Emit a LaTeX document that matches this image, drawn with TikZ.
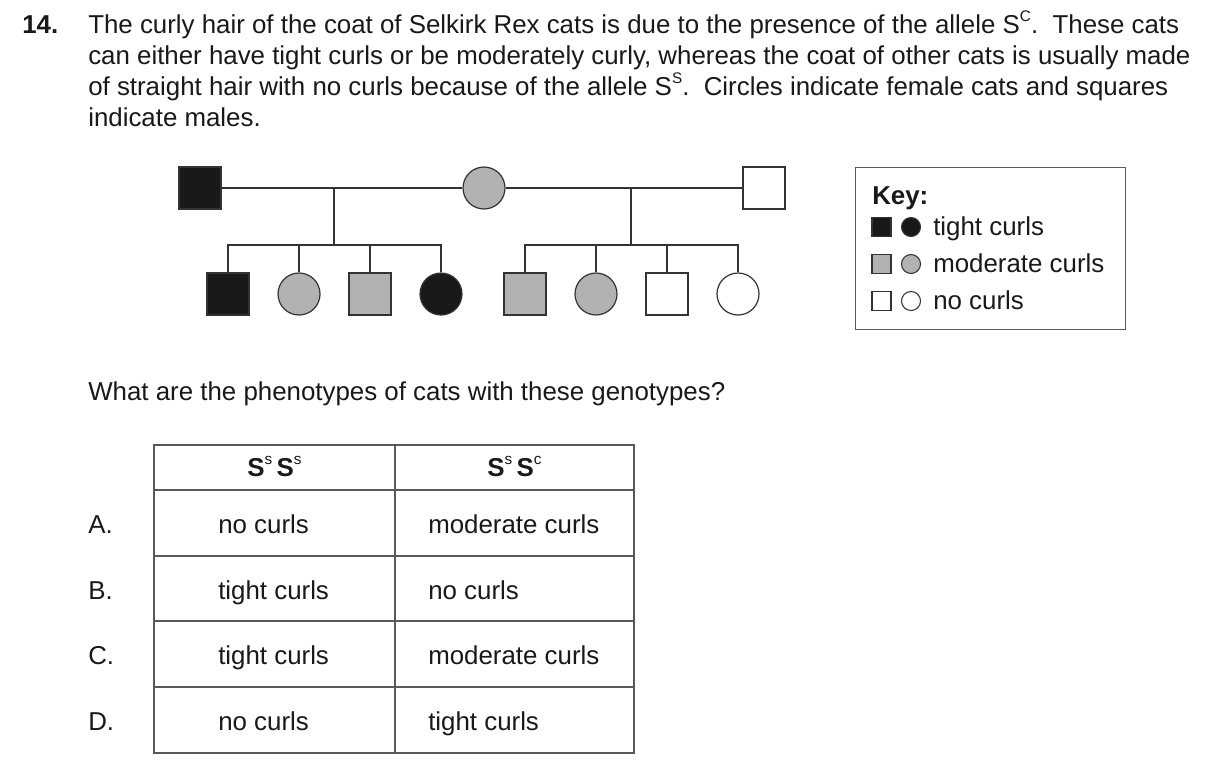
\documentclass[tikz,border=0pt]{standalone}
\usepackage{fontspec}
\setmainfont{Liberation Sans}
\newcommand{\supr}[1]{\raisebox{0.45em}{\fontsize{11.5}{11.5}\selectfont #1}}
\begin{document}
\begin{tikzpicture}[x=0.75pt,y=-0.75pt,
  font=\fontsize{19.4}{23}\selectfont,
  txt/.style={anchor=base west, inner sep=0pt, text=black!90},
  ctxt/.style={anchor=base, inner sep=0pt, text=black!90},
  ln/.style={draw=black!80, line width=0.9pt},
  tl/.style={draw=black!65, line width=1pt},
  sq/.style={draw=black!80, line width=0.9pt, shape=rectangle, minimum size=31.5pt, inner sep=0pt},
  ci/.style={draw=black!80, line width=0.9pt, shape=circle, minimum size=31.5pt, inner sep=0pt},
  ksq/.style={draw=black!80, line width=0.8pt, shape=rectangle, minimum size=14.25pt, inner sep=0pt},
  kci/.style={draw=black!80, line width=0.8pt, shape=circle, minimum size=14.25pt, inner sep=0pt},
  blk/.style={fill=black!90},
  gry/.style={fill=black!30},
  wht/.style={fill=white}]
\useasboundingbox[fill=white] (0,0) rectangle (1216,776);

% question text
\node[txt, font=\fontsize{19.4}{23}\selectfont\bfseries] (num) at (22,33) {14.};
\node[txt] (l1) at (88,33) {The curly hair of the coat of Selkirk Rex cats is due to the presence of the allele S\supr{C}.\ \ These cats};
\node[txt] (l2) at (88,64) {can either have tight curls or be moderately curly, whereas the coat of other cats is usually made};
\node[txt] (l3) at (88,95) {of straight hair with no curls because of the allele S\supr{S}.\ \ Circles indicate female cats and squares};
\node[txt] (l4) at (88,126) {indicate males.};

% pedigree: parents
\node[sq, blk] (f1) at (200,188) {};
\node[ci, gry] (m) at (484,188) {};
\node[sq, wht] (f2) at (764,188) {};
\draw[ln] (f1.east) -- (m.west);
\draw[ln] (m.east) -- (f2.west);
\coordinate (j1) at (334,188);
\coordinate (s1) at (334,245);
\coordinate (j2) at (631,188);
\coordinate (s2) at (631,245);

% children
\node[sq, blk] (c1) at (228,294) {};
\node[ci, gry] (c2) at (299,294) {};
\node[sq, gry] (c3) at (370,294) {};
\node[ci, blk] (c4) at (441,294) {};
\node[sq, gry] (c5) at (525,294) {};
\node[ci, gry] (c6) at (596,294) {};
\node[sq, wht] (c7) at (667,294) {};
\node[ci, wht] (c8) at (738,294) {};

\draw[ln] (j1) -- (s1);
\draw[ln] (c1.north) -- (c1 |- s1) -- (c4 |- s1) -- (c4.north);
\draw[ln] (c2.north) -- (c2 |- s1);
\draw[ln] (c3.north) -- (c3 |- s1);
\draw[ln] (j2) -- (s2);
\draw[ln] (c5.north) -- (c5 |- s2) -- (c8 |- s2) -- (c8.north);
\draw[ln] (c6.north) -- (c6 |- s2);
\draw[ln] (c7.north) -- (c7 |- s2);

% key
\node[draw=black!65, line width=1pt, minimum width=202.5pt, minimum height=121.5pt, inner sep=0pt, anchor=north west] (key) at (855,167) {};
\node[txt, font=\fontsize{19.4}{23}\selectfont\bfseries] (keyt) at (872,204) {Key:};
\node[ksq, blk] (k1s) at (881.5,227) {};
\node[kci, blk] (k1c) at (911,227) {};
\node[txt] (k1t) at (933,235) {tight curls};
\node[ksq, gry] (k2s) at (881.5,264) {};
\node[kci, gry] (k2c) at (911,264) {};
\node[txt] (k2t) at (933,272) {moderate curls};
\node[ksq, wht] (k3s) at (881.5,301) {};
\node[kci, wht] (k3c) at (911,301) {};
\node[txt] (k3t) at (933,309) {no curls};

% question
\node[txt] (q) at (88,400) {What are the phenotypes of cats with these genotypes?};

% table
\draw[tl] (154,445) rectangle (634,753);
\draw[tl] (395,445) -- (395,753);
\foreach \yy in {490,556,621,687} \draw[tl] (154,\yy) -- (634,\yy);
\node[ctxt] (h1) at (274.5,476) {\textbf{S}\supr{s}\,\textbf{S}\supr{s}};
\node[ctxt] (h2) at (514.5,476) {\textbf{S}\supr{s}\,\textbf{S}\supr{c}};

\node[txt] (la) at (88,533) {A.};
\node[txt] (a1) at (218,533) {no curls};
\node[txt] (a2) at (428,533) {moderate curls};
\node[txt] (lb) at (88,599) {B.};
\node[txt] (b1) at (218,599) {tight curls};
\node[txt] (b2) at (428,599) {no curls};
\node[txt] (lc) at (88,664) {C.};
\node[txt] (c1t) at (218,664) {tight curls};
\node[txt] (c2t) at (428,664) {moderate curls};
\node[txt] (ld) at (88,730) {D.};
\node[txt] (d1) at (218,730) {no curls};
\node[txt] (d2) at (428,730) {tight curls};
\end{tikzpicture}
\end{document}
